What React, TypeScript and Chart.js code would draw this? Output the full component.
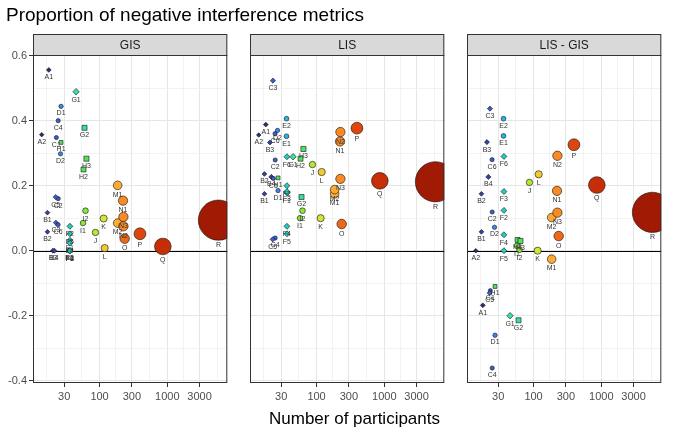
import React, { useEffect, useRef } from "react";
import { Chart, registerables } from "chart.js";

Chart.register(...registerables);

const TITLE = "Proportion of negative interference metrics";
const X_TITLE = "Number of participants";
const PANELS = ["GIS", "LIS", "LIS - GIS"];

const pointLabels = ["A1","A2","B1","B2","B3","B4","C1","C2","C3","C4","C5","C6","D1","D2","E1","E2","F1","F2","F3","F4","F5","F6","G1","G2","H1","H2","H3","I1","I2","J","K","L","M1","M2","N1","N2","N3","O","P","Q","R"];
const participants = [17.8,14,17,17,20.5,21.5,23,24.5,22.7,24.5,22.5,24.4,27,26.5,36,36,36.5,36.5,36.5,36.5,36.5,36.5,45,60,27,58,64,57,62,87,115,119,185,185,222,225,225,235,395,860,5700];
const gisValues = [0.556,0.357,0.117,0.058,0.0,0.0,0.348,0.16,0.086,0.40,0.165,0.08,0.444,0.298,0.0,0.0,0.032,0.075,0.0,0.024,0.052,0.0,0.489,0.378,0.333,0.25,0.283,0.085,0.123,0.056,0.099,0.008,0.201,0.085,0.154,0.075,0.104,0.037,0.052,0.013,0.094];
const lisValues = [0.388,0.356,0.175,0.236,0.333,0.227,0.222,0.279,0.523,0.039,0.035,0.36,0.185,0.37,0.352,0.406,0.178,0.2,0.182,0.075,0.052,0.289,0.289,0.165,0.224,0.283,0.313,0.1,0.123,0.265,0.1,0.242,0.175,0.188,0.336,0.365,0.221,0.082,0.377,0.215,0.212];
const diffValues = [-0.168,0.0,0.058,0.175,0.334,0.227,-0.123,0.119,0.437,-0.361,-0.13,0.28,-0.26,0.072,0.353,0.406,null,0.124,0.182,0.049,0.0,0.29,-0.2,-0.214,-0.11,0.033,0.03,0.015,0.003,0.21,0.0,0.235,-0.026,0.102,0.184,0.292,0.117,0.045,0.326,0.202,0.118];

const xMajorTicks = [30, 100, 300, 1000, 3000];
const xTickLabels = ["30", "100", "300", "1000", "3000"];
const xMinorTicks = [16.4, 54.8, 173.2, 547.7, 1732, 5477];
const yMajorTicks = [-0.4, -0.2, 0, 0.2, 0.4, 0.6];
const yTickLabels = ["-0.4", "-0.2", "0.0", "0.2", "0.4", "0.6"];
const yMinorTicks = [-0.3, -0.1, 0.1, 0.3, 0.5];

const X_MIN = 10.4;
const X_MAX = 7700;
const Y_MIN = -0.407;
const Y_MAX = 0.602;

const groupColors: Record<string, string> = {
  A: "#2F2A74", B: "#3340A6", C: "#3A5DD3", D: "#3C85EE", E: "#25B7DE", F: "#22CDBF",
  G: "#37E39A", H: "#52E35C", I: "#8CE63E", J: "#B3E834", K: "#D3E33A", L: "#EFCB33",
  M: "#FBAB35", N: "#F98A24", O: "#EF6817", P: "#DD470D", Q: "#C52E07", R: "#A11A03",
};
const diamondPoints = new Set(["A1","A2","B1","B2","B3","B4","C3","C5","F1","F2","F3","F4","F5","F6","G1"]);
const squarePoints = new Set(["G2","H1","H2","H3"]);

const FONT = "'Liberation Sans', Arial, Helvetica, sans-serif";
const PANEL_LEFT = [33, 250, 467];
const PANEL_W = 209;
const PLOT_TOP = 55;
const PLOT_BOTTOM = 383;
const STRIP_TOP = 34;
const AXIS_W = 33;
const PAD = 6;
const H = 432;

const near = (a: number, b: number) => Math.abs(a - b) < 1e-6 * Math.max(1, Math.abs(b));
const isXMajor = (v: number) => xMajorTicks.some((t) => near(v, t));
const isYMajor = (v: number) => yMajorTicks.some((t) => near(v, t));

function baseRadius(n: number) {
  return 0.85 + 0.255 * Math.sqrt(n);
}
function radiusFor(lab: string, n: number) {
  const r = baseRadius(n);
  if (squarePoints.has(lab) || diamondPoints.has(lab)) return r * 1.25;
  return r;
}
function styleFor(lab: string) {
  if (squarePoints.has(lab)) return "rect";
  if (diamondPoints.has(lab)) return "rectRot";
  return "circle";
}

function Panel({ index, values }: { index: number; values: (number | null)[] }) {
  const ref = useRef<HTMLCanvasElement>(null);
  useEffect(() => {
    if (!ref.current) return;
    const data = pointLabels
      .map((lab, i) => ({ x: participants[i], y: values[i], lab, n: participants[i] }))
      .filter((d) => d.y !== null && d.y !== undefined);

    const panelPlugin = {
      id: "panelDecor" + index,
      beforeDatasetsDraw(chart: any) {
        const { ctx, chartArea: a, scales } = chart;
        const y0 = Math.round(scales.y.getPixelForValue(0)) + 0.5;
        ctx.save();
        ctx.strokeStyle = "#000";
        ctx.lineWidth = 1.1;
        ctx.beginPath();
        ctx.moveTo(a.left, y0);
        ctx.lineTo(a.right, y0);
        ctx.stroke();
        ctx.restore();
      },
      afterDatasetsDraw(chart: any) {
        const { ctx, chartArea: a } = chart;
        const meta = chart.getDatasetMeta(0);
        ctx.save();
        ctx.beginPath();
        ctx.rect(a.left, a.top, a.right - a.left, a.bottom - a.top);
        ctx.clip();
        ctx.font = `7px ${FONT}`;
        ctx.fillStyle = "#333333";
        ctx.textAlign = "center";
        ctx.textBaseline = "middle";
        meta.data.forEach((el: any, i: number) => {
          const d = data[i];
          const r = el.options.radius;
          const st = styleFor(d.lab);
          const half = st === "rect" ? r * Math.SQRT1_2 : r;
          ctx.fillText(d.lab, el.x, el.y + half + 5);
        });
        ctx.restore();
      },
      afterDraw(chart: any) {
        const { ctx, chartArea: a } = chart;
        const w = a.right - a.left;
        ctx.save();
        ctx.fillStyle = "#D9D9D9";
        ctx.fillRect(a.left, STRIP_TOP, w, a.top - STRIP_TOP);
        ctx.strokeStyle = "#333333";
        ctx.lineWidth = 1;
        ctx.strokeRect(a.left + 0.5, STRIP_TOP + 0.5, w - 1, a.top - STRIP_TOP);
        ctx.fillStyle = "#1A1A1A";
        ctx.font = `12px ${FONT}`;
        ctx.textAlign = "center";
        ctx.textBaseline = "middle";
        ctx.fillText(PANELS[index], a.left + w / 2, (STRIP_TOP + a.top) / 2 + 1);
        ctx.strokeRect(a.left + 0.5, a.top + 0.5, w - 1, a.bottom - a.top - 1);
        ctx.restore();
      },
    };

    const chart = new Chart(ref.current, {
      type: "scatter",
      data: {
        datasets: [
          {
            data: data as any,
            clip: 0 as any,
            showLine: false,
            pointRadius: (c: any) => (c.raw ? radiusFor(c.raw.lab, c.raw.n) : 2),
            pointHoverRadius: (c: any) => (c.raw ? radiusFor(c.raw.lab, c.raw.n) : 2),
            pointStyle: (c: any) => (c.raw ? styleFor(c.raw.lab) : "circle"),
            pointBackgroundColor: (c: any) => (c.raw ? groupColors[c.raw.lab[0]] : "#000"),
            pointBorderColor: "#111111",
            pointBorderWidth: 0.6,
          } as any,
        ],
      },
      options: {
        responsive: false,
        animation: false,
        events: [],
        layout: { padding: { left: PAD, right: PAD, top: PLOT_TOP, bottom: 0 } },
        plugins: { legend: { display: false }, tooltip: { enabled: false }, title: { display: false } },
        scales: {
          x: {
            type: "logarithmic",
            min: X_MIN,
            max: X_MAX,
            position: "bottom",
            afterBuildTicks: (s: any) => {
              s.ticks = [...xMinorTicks, ...xMajorTicks].sort((a, b) => a - b).map((v) => ({ value: v }));
            },
            afterFit: (s: any) => {
              s.height = H - PLOT_BOTTOM;
            },
            ticks: {
              autoSkip: false,
              maxRotation: 0,
              minRotation: 0,
              padding: 3,
              color: "#4D4D4D",
              font: { family: FONT, size: 11 },
              callback: (v: any) => {
                const k = xMajorTicks.findIndex((t) => near(Number(v), t));
                return k >= 0 ? xTickLabels[k] : "";
              },
            },
            grid: {
              color: (c: any) => (c.tick && isXMajor(c.tick.value) ? "#E6E6E6" : "#F0F0F0"),
              lineWidth: (c: any) => (c.tick && isXMajor(c.tick.value) ? 1 : 0.8),
              tickColor: (c: any) => (c.tick && isXMajor(c.tick.value) ? "#333333" : "rgba(0,0,0,0)"),
              tickLength: 4,
              drawTicks: true,
            },
            border: { display: false },
          } as any,
          y: {
            type: "linear",
            min: Y_MIN,
            max: Y_MAX,
            afterBuildTicks: (s: any) => {
              s.ticks = [...yMinorTicks, ...yMajorTicks].sort((a, b) => a - b).map((v) => ({ value: v }));
            },
            afterFit: (s: any) => {
              s.width = AXIS_W;
            },
            ticks: {
              display: index === 0,
              autoSkip: false,
              padding: 2,
              color: "#4D4D4D",
              font: { family: FONT, size: 11 },
              callback: (v: any) => {
                const k = yMajorTicks.findIndex((t) => near(Number(v), t));
                return k >= 0 ? yTickLabels[k] : "";
              },
            },
            grid: {
              color: (c: any) => (c.tick && isYMajor(c.tick.value) ? "#E6E6E6" : "#F0F0F0"),
              lineWidth: (c: any) => (c.tick && isYMajor(c.tick.value) ? 1 : 0.8),
              tickColor: (c: any) => (c.tick && isYMajor(c.tick.value) ? "#333333" : "rgba(0,0,0,0)"),
              tickLength: 4,
              drawTicks: index === 0,
            },
            border: { display: false },
          } as any,
        },
      },
      plugins: [panelPlugin as any],
    });
    return () => chart.destroy();
  }, []);

  const width = AXIS_W + PANEL_W + 2 * PAD;
  return (
    <canvas
      ref={ref}
      width={width}
      height={H}
      style={{ position: "absolute", left: PANEL_LEFT[index] - AXIS_W - PAD, top: 0, width, height: H }}
    />
  );
}

export default function App() {
  return (
    <div style={{ position: "fixed", left: 0, top: 0, width: 678, height: 432, background: "#ffffff", overflow: "hidden" }}>
      <Panel index={0} values={gisValues} />
      <Panel index={1} values={lisValues} />
      <Panel index={2} values={diffValues} />
      <div
        style={{
          position: "absolute", left: 6, top: 5, fontFamily: FONT, fontSize: 19, lineHeight: "19px",
          color: "#000", whiteSpace: "nowrap",
        }}
      >
        {TITLE}
      </div>
      <div
        style={{
          position: "absolute", left: PANEL_LEFT[0], width: PANEL_LEFT[2] + PANEL_W - PANEL_LEFT[0], top: 410,
          fontFamily: FONT, fontSize: 17, lineHeight: "17px", color: "#000", textAlign: "center", whiteSpace: "nowrap",
        }}
      >
        {X_TITLE}
      </div>
    </div>
  );
}
